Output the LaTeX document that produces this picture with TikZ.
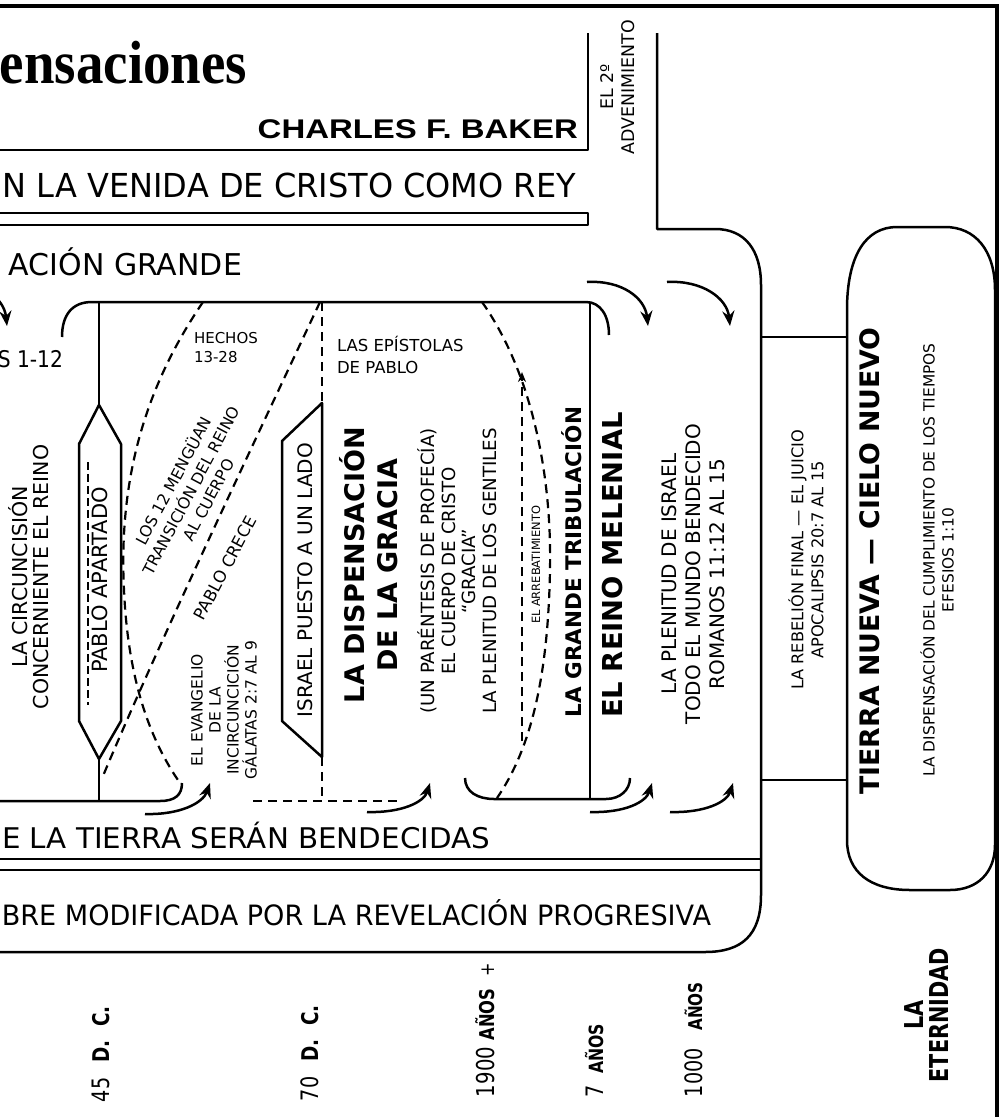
\documentclass[tikz,border=0pt]{standalone}
\usepackage{fontspec}
\setmainfont{DejaVu Sans}
\newfontfamily\ttlfont{Liberation Serif}
\newfontfamily\authfont{Liberation Sans}
\usetikzlibrary{arrows.meta}
\newcommand\setfs[2]{\fontsize{#1}{#2}\selectfont}
\begin{document}
\begin{tikzpicture}[x=1pt,y=-1pt,
  ln/.style={line width=2.5pt,line join=round},
  frm/.style={line width=4.5pt},
  dsh/.style={line width=2.2pt,dash pattern=on 9pt off 6pt},
  arr/.style={line width=2.5pt,-{Stealth[length=15pt,width=12pt]}},
  txt/.style={inner sep=0pt,outer sep=0pt},
  rtxt/.style={txt,rotate=90,align=center},
  yr/.style={txt,rotate=90,xscale=0.8,anchor=base west}]
\useasboundingbox (0,0) rectangle (1006,1117);
\clip (0,0) rectangle (1006,1117);

% outer frame
\draw[frm] (-10,6) -- (997,6) -- (997,1130);

% title box
\draw[ln] (588,33) -- (588,150) -- (-10,150);
% double line (top)
\draw[ln] (-10,213) -- (588,213) -- (588,225) -- (-10,225);
% second advent line and big outline
\draw[ln] (657,33) -- (657,229) -- (715,229) .. controls (745,229) and (761,250) .. (761,285)
  -- (761,895) .. controls (761,935) and (742,952) .. (705,952) -- (-10,952);
% double line (bottom)
\draw[ln] (-10,859) -- (761,859);
\draw[ln] (-10,870) -- (761,870);
% connectors to eternity box
\draw[ln] (761,337) -- (847,337);
\draw[ln] (761,780) -- (847,780);
% eternity box
\draw[ln] (847,310) .. controls (847,255) and (866,227) .. (897,227) -- (945,227)
  .. controls (975,227) and (995,250) .. (995,290) -- (995,845)
  .. controls (995,872) and (978,890) .. (950,890) -- (910,890)
  .. controls (870,890) and (847,872) .. (847,840) -- cycle;

% inner band top
\draw[ln] (62,337) .. controls (62,315) and (72,302) .. (92,302) -- (586,302)
  .. controls (600,302) and (609,315) .. (609,335);
% circumcision box: stem + hexagon
\draw[ln] (99,302) -- (99,405);
\draw[ln] (99,405) -- (121,444) -- (121,721) -- (99,759) -- (79,721) -- (79,444) -- cycle;
\draw[ln] (99,759) -- (99,801);
\draw[ln] (-10,801) -- (160,801) .. controls (175,801) and (182,795) .. (182,783);
\draw[line width=1.3pt,dash pattern=on 8pt off 4pt] (88,462) -- (88,705);
% dashed transition curves
\draw[dsh] (203,302) .. controls (150,380) and (118,470) .. (124,590)
  .. controls (128,680) and (150,740) .. (180,783);
\draw[dsh] (320,302) .. controls (260,430) and (160,640) .. (103,776);
\draw[dsh] (322,302) -- (322,403);
\draw[dsh] (322,757) -- (322,801);
\draw[dsh] (253,801) -- (397,801);
% israel set aside shape
\draw[ln] (322,403) -- (322,757) -- (282,721) -- (282,441) -- cycle;
% rapture
\draw[dsh] (482,302) .. controls (530,370) and (552,470) .. (550,570)
  .. controls (548,680) and (530,750) .. (497,798);
\draw[dsh,-{Stealth[length=10pt,width=8pt]}] (522,741) -- (522,372);
% tribulation
\draw[ln] (590,302) -- (590,799);
\draw[ln] (465,778) .. controls (465,792) and (478,799) .. (494,799) -- (606,799)
  .. controls (620,799) and (630,790) .. (630,778);

% curved arrows
\draw[arr] (-54,282) .. controls (-19,280) and (4,298) .. (7,326);
\draw[arr] (587,282) .. controls (622,280) and (645,298) .. (648,326);
\draw[arr] (667,282) .. controls (702,280) and (727,298) .. (730,326);
\draw[arr] (145,814) .. controls (180,815) and (203,803) .. (210,783);
\draw[arr] (367,812) .. controls (402,813) and (424,802) .. (430,783);
\draw[arr] (590,812) .. controls (625,813) and (646,802) .. (652,783);
\draw[arr] (670,812) .. controls (705,813) and (727,802) .. (733,783);

% texts
\node[txt,anchor=base east,xscale=0.9,font={\ttlfont\bfseries\setfs{61}{61}}] (title) at (247,83) {ensaciones};
\node[txt,anchor=base east,xscale=1.22,font={\authfont\bfseries\setfs{27}{27}}] (author) at (578,138) {CHARLES F. BAKER};
\node[rtxt,font={\setfs{17.4}{21}}] (advent) at (618,87) {EL 2º\\ADVENIMIENTO};
\node[txt,anchor=base east,xscale=0.97,font={\setfs{33}{33}}] (rey) at (576,197) {N LA VENIDA DE CRISTO COMO REY};
\node[txt,anchor=base east,font={\setfs{30}{30}}] (grande) at (242,275) {ACIÓN GRANDE};
\node[txt,anchor=base east,xscale=0.88,font={\setfs{23}{23}}] (hechos112) at (63,367) {S 1-12};
\node[rtxt,font={\setfs{20.5}{21}}] (circ) at (29,577) {LA CIRCUNCISIÓN\\CONCERNIENTE EL REINO};
\node[rtxt,font={\setfs{21}{21}}] (apartado) at (100,580) {PABLO APARTADO};
\node[txt,anchor=north west,align=left,font={\setfs{15}{19}}] (hechos) at (194,332) {HECHOS\\13-28};
\node[txt,rotate=62,align=center,font={\setfs{15.8}{20}}] (menguan) at (190,490) {LOS 12 MENGÜAN\\TRANSICIÓN DEL REINO\\AL CUERPO};
\node[txt,rotate=62,font={\setfs{16.6}{19}}] (crece) at (225,568) {PABLO CRECE};
\node[rtxt,font={\setfs{15.5}{18}}] (evang) at (224,710) {EL EVANGELIO\\DE LA\\INCIRCUNCICIÓN\\GÁLATAS 2:7 AL 9};
\node[rtxt,font={\setfs{20}{20}}] (israel) at (305,580) {ISRAEL PUESTO A UN LADO};
\node[txt,anchor=north west,align=left,font={\setfs{16.5}{22}}] (epist) at (337,336) {LAS EPÍSTOLAS\\DE PABLO};
\node[rtxt,font={\bfseries\setfs{27}{33}}] (gracia) at (369,565) {LA DISPENSACIÓN\\DE LA GRACIA};
\node[rtxt,font={\setfs{18.2}{20.5}}] (parent) at (457,571) {(UN PARÉNTESIS DE PROFECÍA)\\EL CUERPO DE CRISTO\\“GRACIA”\\LA PLENITUD DE LOS GENTILES};
\node[rtxt,font={\setfs{11.4}{12}}] (arreb) at (536,565) {EL ARREBATIMIENTO};
\node[rtxt,font={\bfseries\setfs{21.5}{22}}] (trib) at (572,562) {LA GRANDE TRIBULACIÓN};
\node[rtxt,font={\bfseries\setfs{27.4}{28}}] (melen) at (613,565) {EL REINO MELENIAL};
\node[rtxt,font={\setfs{20}{24}}] (plenisr) at (693,574) {LA PLENITUD DE ISRAEL\\TODO EL MUNDO BENDECIDO\\ROMANOS 11:12 AL 15};
\node[rtxt,font={\setfs{16.2}{20}}] (rebel) at (806,560) {LA REBELIÓN FINAL — EL JUICIO\\APOCALIPSIS 20:7 AL 15};
\node[rtxt,font={\bfseries\setfs{26.8}{27}}] (tierra) at (870,561) {TIERRA NUEVA — CIELO NUEVO};
\node[rtxt,font={\setfs{15.4}{19}}] (cumpl) at (937,560) {LA DISPENSACIÓN DEL CUMPLIMIENTO DE LOS TIEMPOS\\EFESIOS 1:10};
\node[txt,anchor=base east,xscale=1.03,font={\setfs{28.5}{28.5}}] (bendec) at (490,848) {E LA TIERRA SERÁN BENDECIDAS};
\node[txt,anchor=base east,xscale=0.967,font={\setfs{28}{28}}] (progres) at (711,925) {BRE MODIFICADA POR LA REVELACIÓN PROGRESIVA};

% time labels
\node[yr] (y45) at (109,1102) {{\setfs{24}{24}45}\hspace{19pt}{\bfseries\setfs{23}{23}D.\hspace{17pt}C.}};
\node[yr] (y70) at (318,1101) {{\setfs{24}{24}70}\hspace{19pt}{\bfseries\setfs{23}{23}D.\hspace{17pt}C.}};
\node[yr] (y1900) at (494,1097) {{\setfs{24.6}{24}1900}\hspace{8pt}{\bfseries\setfs{20.4}{20}AÑOS}\hspace{15pt}{\setfs{20}{20}+}};
\node[yr] (y7) at (603,1097) {{\setfs{24}{24}7}\hspace{14pt}{\bfseries\setfs{19.6}{20}AÑOS}};
\node[yr] (y1000) at (702,1097) {{\setfs{24}{24}1000}\hspace{22pt}{\bfseries\setfs{19}{20}AÑOS}};
\node[rtxt,xscale=0.8,font={\bfseries\setfs{26}{25}}] (etern) at (927,1015) {LA\\ETERNIDAD};
\end{tikzpicture}
\end{document}
